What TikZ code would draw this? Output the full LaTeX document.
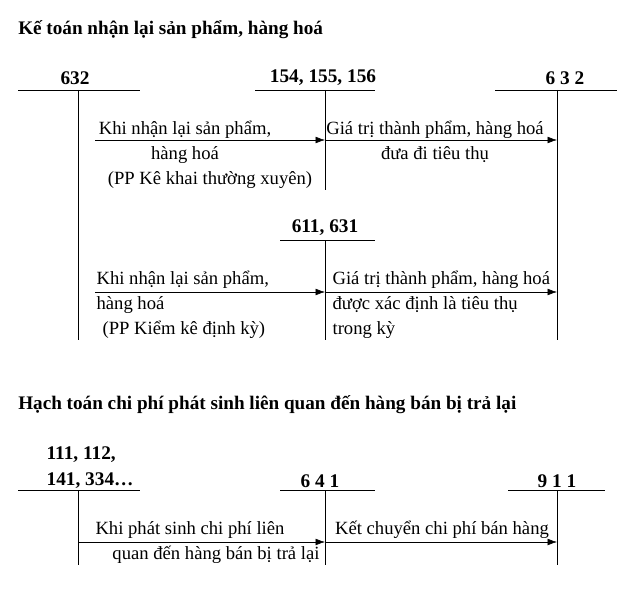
\documentclass[tikz,border=0pt]{standalone}
\usepackage{fontspec}
\setmainfont{Liberation Serif}
\usetikzlibrary{arrows.meta}
\begin{document}
\begin{tikzpicture}[x=0.0264cm,y=-0.0264cm,>={Latex[length=7pt,width=5pt]},
  acc/.style={font=\bfseries\fontsize{14.5}{16}\selectfont,inner sep=1pt},
  txt/.style={font=\fontsize{14}{16}\selectfont,inner sep=1pt},
  ttl/.style={font=\bfseries\fontsize{14.4}{16}\selectfont,anchor=west,inner sep=0pt}]
\useasboundingbox (0,0) rectangle (633,591);
% part one
\node[ttl] (t1) at (18,30) {Kế toán nhận lại sản phẩm, hàng hoá};
\node[acc] (a632) at (75,78) {632};
\node[acc] (a154) at (323,78) {154, 155, 156};
\node[acc] (b632) at (565,78) {6 3 2};
\node[acc] (a611) at (325,228) {611, 631};
\draw (18,90) -- (140,90) (78,90) -- (78,340);
\draw (255,90) -- (375,90) (325,90) -- (325,190);
\draw (495,90) -- (617,90) (557,90) -- (557,340);
\draw (280,240) -- (375,240) (325,240) -- (325,340);
\coordinate (p1) at (95,140);
\coordinate (p2) at (325,140);
\coordinate (p3) at (557,140);
\coordinate (q1) at (95,292);
\coordinate (q2) at (325,292);
\coordinate (q3) at (557,292);
\draw[->] (p1) -- (p2);
\draw[->] (p2) -- (p3);
\draw[->] (q1) -- (q2);
\draw[->] (q2) -- (q3);
\node[txt] (k1) at (185,130) {Khi nhận lại sản phẩm,};
\node[txt] (k2) at (185,155) {hàng hoá};
\node[txt] (k3) at (210,180) {(PP Kê khai thường xuyên)};
\node[txt] (g1) at (435,130) {Giá trị thành phẩm, hàng hoá};
\node[txt] (g2) at (435,155) {đưa đi tiêu thụ};
\node[txt,anchor=west] (m1) at (95,280) {Khi nhận lại sản phẩm,};
\node[txt,anchor=west] (m2) at (95,305) {hàng hoá};
\node[txt,anchor=west] (m3) at (101,330) {(PP Kiểm kê định kỳ)};
\node[txt,anchor=west] (n1) at (331,280) {Giá trị thành phẩm, hàng hoá};
\node[txt,anchor=west] (n2) at (331,305) {được xác định là tiêu thụ};
\node[txt,anchor=west] (n3) at (331,330) {trong kỳ};
% part two
\node[ttl] (t2) at (18,405) {Hạch toán chi phí phát sinh liên quan đến hàng bán bị trả lại};
\node[acc,anchor=west] (a111) at (45,455) {111, 112,};
\node[acc,anchor=west] (a141) at (45,481) {141, 334…};
\node[acc] (a641) at (320,481) {6 4 1};
\node[acc] (a911) at (557,481) {9 1 1};
\draw (18,490) -- (140,490) (78,490) -- (78,565);
\draw (280,490) -- (375,490) (325,490) -- (325,565);
\draw (508,490) -- (605,490) (557,490) -- (557,565);
\coordinate (r1) at (78,542);
\coordinate (r2) at (325,542);
\coordinate (r3) at (557,542);
\draw[->] (r1) -- (r2);
\draw[->] (r2) -- (r3);
\node[txt] (c1) at (190,530) {Khi phát sinh chi phí liên};
\node[txt] (c2) at (216,555) {quan đến hàng bán bị trả lại};
\node[txt] (c3) at (442,530) {Kết chuyển chi phí bán hàng};
\end{tikzpicture}
\end{document}
